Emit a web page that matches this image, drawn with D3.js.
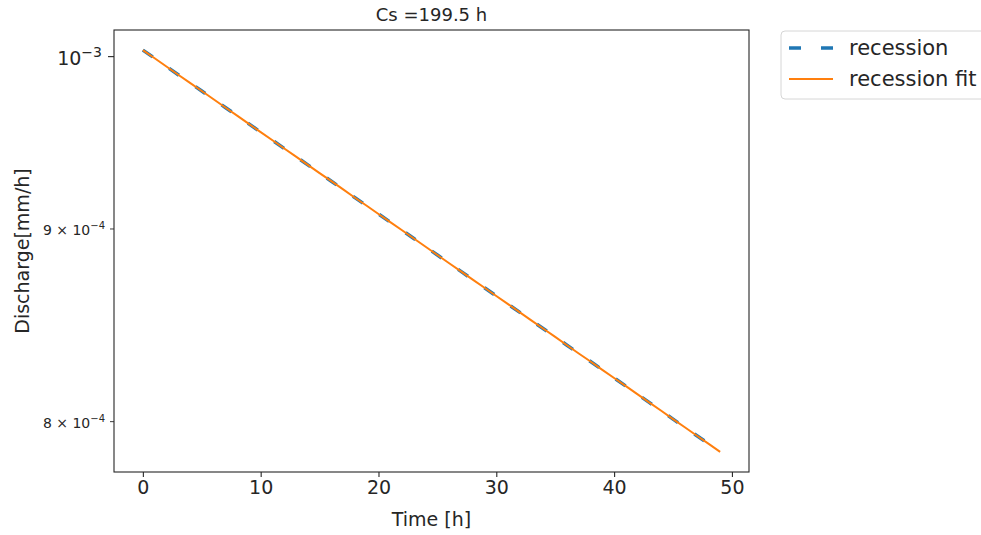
<!DOCTYPE html>
<html>
<head>
<meta charset="utf-8">
<script src="https://cdn.jsdelivr.net/npm/d3@7"></script>
<style>
  body { margin: 0; background: #fff; }
  text { font-family: "DejaVu Sans", sans-serif; fill: #262626; }
</style>
</head>
<body>
<div id="chart"></div>
<script>
// hours since start of the recession
const hours = d3.range(0, 50)

// discharge, in mm/h
const recession = [
  1.0037e-3, 9.987e-4, 9.937e-4, 9.887e-4, 9.838e-4, 9.789e-4, 9.740e-4, 9.691e-4, 9.643e-4, 9.594e-4,
  9.546e-4, 9.499e-4, 9.451e-4, 9.404e-4, 9.357e-4, 9.310e-4, 9.264e-4, 9.218e-4, 9.171e-4, 9.126e-4,
  9.080e-4, 9.035e-4, 8.990e-4, 8.945e-4, 8.900e-4, 8.855e-4, 8.811e-4, 8.767e-4, 8.723e-4, 8.680e-4,
  8.636e-4, 8.593e-4, 8.550e-4, 8.507e-4, 8.465e-4, 8.423e-4, 8.380e-4, 8.338e-4, 8.297e-4, 8.255e-4,
  8.214e-4, 8.173e-4, 8.132e-4, 8.091e-4, 8.051e-4, 8.010e-4, 7.970e-4, 7.930e-4, 7.891e-4, 7.851e-4
]
const recessionFit = [
  1.0037e-3, 9.987e-4, 9.937e-4, 9.887e-4, 9.838e-4, 9.789e-4, 9.740e-4, 9.691e-4, 9.643e-4, 9.594e-4,
  9.546e-4, 9.499e-4, 9.451e-4, 9.404e-4, 9.357e-4, 9.310e-4, 9.264e-4, 9.218e-4, 9.171e-4, 9.126e-4,
  9.080e-4, 9.035e-4, 8.990e-4, 8.945e-4, 8.900e-4, 8.855e-4, 8.811e-4, 8.767e-4, 8.723e-4, 8.680e-4,
  8.636e-4, 8.593e-4, 8.550e-4, 8.507e-4, 8.465e-4, 8.423e-4, 8.380e-4, 8.338e-4, 8.297e-4, 8.255e-4,
  8.214e-4, 8.173e-4, 8.132e-4, 8.091e-4, 8.051e-4, 8.010e-4, 7.970e-4, 7.930e-4, 7.891e-4, 7.851e-4
]

const xTicks = [0, 10, 20, 30, 40, 50]
const yMajorTicks = [1e-3]
const yMinorTicks = [9e-4, 8e-4]
const seriesNames = ["recession", "recession fit"]
const titleText = "Cs =199.5 h"

// chart dimensions
let dimensions = {
  width: 981,
  height: 535,
  margin: { top: 30, right: 232, bottom: 63, left: 114 },
}
dimensions.boundedWidth = dimensions.width - dimensions.margin.left - dimensions.margin.right
dimensions.boundedHeight = dimensions.height - dimensions.margin.top - dimensions.margin.bottom

const wrapper = d3.select("#chart")
  .append("svg")
    .attr("width", dimensions.width)
    .attr("height", dimensions.height)

const bounds = wrapper.append("g")
  .attr("transform", `translate(${dimensions.margin.left},${dimensions.margin.top})`)

// scales, with matplotlib style 5% padding
const xExt = d3.extent(hours)
const xPad = (xExt[1] - xExt[0]) * 0.05
const xScale = d3.scaleLinear()
  .domain([xExt[0] - xPad, xExt[1] + xPad])
  .range([0, dimensions.boundedWidth])

const allY = recession.concat(recessionFit)
const lo = Math.log10(d3.min(allY)), hi = Math.log10(d3.max(allY))
const yPad = (hi - lo) * 0.05
const yScale = d3.scaleLog()
  .domain([Math.pow(10, lo - yPad), Math.pow(10, hi + yPad)])
  .range([dimensions.boundedHeight, 0])

bounds.append("defs").append("clipPath").attr("id", "clip")
  .append("rect")
  .attr("width", dimensions.boundedWidth)
  .attr("height", dimensions.boundedHeight)

// lines
const lineGen = d3.line()
  .x((d, i) => xScale(hours[i]))
  .y(d => yScale(d))

const plot = bounds.append("g").attr("clip-path", "url(#clip)")

plot.append("path")
  .datum(recession)
  .attr("d", lineGen)
  .attr("fill", "none")
  .attr("stroke", "#1f77b4")
  .attr("stroke-width", 3.5)
  .attr("stroke-dasharray", "12,20")

plot.append("path")
  .datum(recessionFit)
  .attr("d", lineGen)
  .attr("fill", "none")
  .attr("stroke", "#ff7f0e")
  .attr("stroke-width", 2)

// frame
bounds.append("rect")
  .attr("width", dimensions.boundedWidth)
  .attr("height", dimensions.boundedHeight)
  .attr("fill", "none")
  .attr("stroke", "#262626")
  .attr("stroke-width", 1.1)

// x axis
const xAxis = bounds.append("g")
  .attr("transform", `translate(0,${dimensions.boundedHeight})`)
  .call(d3.axisBottom(xScale).tickValues(xTicks).tickSize(5).tickPadding(4).tickFormat(d3.format("d")))
xAxis.select(".domain").remove()
xAxis.selectAll("line").attr("stroke", "#262626").attr("stroke-width", 1.1)
xAxis.selectAll("text").attr("font-size", 19).attr("font-family", "DejaVu Sans, sans-serif").attr("fill", "#262626")

// y axis, major and minor ticks with power labels
function powerLabel(sel, d, major) {
  const exp = Math.floor(Math.log10(d) + 1e-9)
  const mant = Math.round(d / Math.pow(10, exp))
  sel.text(null)
  if (!major) sel.append("tspan").text(mant + " \u00d7 ")
  sel.append("tspan").text("10")
  sel.append("tspan")
    .attr("dy", major ? -8 : -6)
    .attr("font-size", major ? 14 : 10)
    .text("\u2212" + Math.abs(exp))
}

const yAxisMajor = bounds.append("g")
  .call(d3.axisLeft(yScale).tickValues(yMajorTicks).tickSize(6).tickPadding(6))
yAxisMajor.select(".domain").remove()
yAxisMajor.selectAll("line").attr("stroke", "#262626").attr("stroke-width", 1.1)
yAxisMajor.selectAll("text")
  .attr("font-size", 19).attr("font-family", "DejaVu Sans, sans-serif").attr("fill", "#262626")
  .attr("dy", "0.45em")
  .each(function(d) { powerLabel(d3.select(this), d, true) })

const yAxisMinor = bounds.append("g")
  .call(d3.axisLeft(yScale).tickValues(yMinorTicks).tickSize(4).tickPadding(5))
yAxisMinor.select(".domain").remove()
yAxisMinor.selectAll("line").attr("stroke", "#262626").attr("stroke-width", 0.9)
yAxisMinor.selectAll("text")
  .attr("font-size", 14).attr("font-family", "DejaVu Sans, sans-serif").attr("fill", "#262626")
  .attr("dy", "0.45em")
  .each(function(d) { powerLabel(d3.select(this), d, false) })

// axis labels and title
bounds.append("text")
  .attr("x", dimensions.boundedWidth / 2)
  .attr("y", dimensions.boundedHeight + 54)
  .attr("text-anchor", "middle")
  .attr("font-size", 19)
  .text("Time [h]")

bounds.append("text")
  .attr("transform", `translate(${-dimensions.margin.left + 29},${dimensions.boundedHeight / 2}) rotate(-90)`)
  .attr("text-anchor", "middle")
  .attr("font-size", 19)
  .text("Discharge[mm/h]")

bounds.append("text")
  .attr("x", dimensions.boundedWidth / 2)
  .attr("y", -9)
  .attr("text-anchor", "middle")
  .attr("font-size", 18)
  .text(titleText)

// legend outside the axes
const legend = wrapper.append("g")
  .attr("transform", `translate(${dimensions.margin.left + dimensions.boundedWidth + 32},${dimensions.margin.top + 1})`)

legend.append("rect")
  .attr("width", 240)
  .attr("height", 68)
  .attr("rx", 4)
  .attr("fill", "#fff")
  .attr("stroke", "#d6d6d6")
  .attr("stroke-width", 1)

const legendStyles = [
  { color: "#1f77b4", width: 3.5, dash: "12,20" },
  { color: "#ff7f0e", width: 2, dash: null },
]

const items = legend.selectAll(".item")
  .data(seriesNames)
  .join("g")
  .attr("class", "item")
  .attr("transform", (d, i) => `translate(0,${17 + i * 31})`)

items.append("line")
  .attr("x1", 8).attr("x2", 52)
  .attr("stroke", (d, i) => legendStyles[i].color)
  .attr("stroke-width", (d, i) => legendStyles[i].width)
  .attr("stroke-dasharray", (d, i) => legendStyles[i].dash)

items.append("text")
  .attr("x", 68)
  .attr("dy", "0.35em")
  .attr("font-size", 21)
  .text(d => d)
</script>
</body>
</html>
